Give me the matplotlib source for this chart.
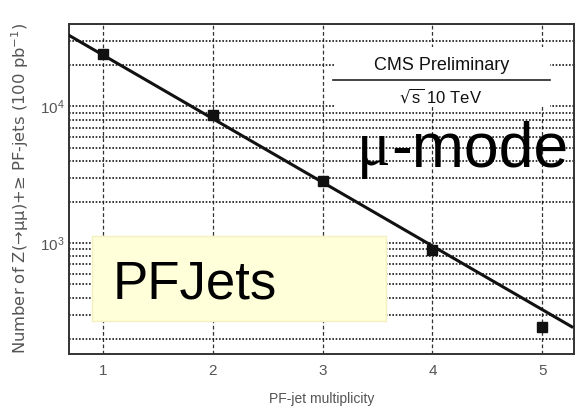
import numpy as np
import matplotlib
matplotlib.use("Agg")
import matplotlib.pyplot as plt
from matplotlib.patches import Rectangle
from matplotlib.ticker import LogLocator, FixedLocator, NullFormatter

# data
multiplicity = [1, 2, 3, 4, 5]
n_events = [24000, 8700, 2840, 890, 244]
# exponential fit drawn in the plot: log10(N) = fit_a + fit_b * n
fit_a = 4.84
fit_b = -0.465

plt.rcParams['font.family'] = ['Liberation Sans', 'DejaVu Sans']
plt.rcParams['mathtext.default'] = 'regular'

W, H = 585, 411


def fx(px):
    return px / W


def fy(py):
    return 1 - py / H


fig = plt.figure(figsize=(5.85, 4.11), dpi=100)
ax = fig.add_axes([fx(69), fy(354), (574 - 69) / W, (354 - 24) / H])

ax.set_yscale('log')
ax.set_xlim(0.69, 5.29)
ax.set_ylim(155, 40000)

# grid: dotted horizontals at every minor decade step, dashed verticals
ax.yaxis.set_minor_locator(LogLocator(base=10, subs=np.arange(2, 10)))
ax.yaxis.set_minor_formatter(NullFormatter())
ax.xaxis.set_major_locator(FixedLocator(multiplicity))
ax.grid(True, which='both', axis='y', linestyle=(0, (1, 1)), color='#1a1a1a', linewidth=1.2)
ax.grid(True, which='major', axis='x', linestyle=(0, (3, 2)), color='#333333', linewidth=0.9)
ax.tick_params(which='both', length=0, labelsize=11, colors='#555555')
ax.tick_params(axis='x', pad=7)
for s in ax.spines.values():
    s.set_linewidth(1.4)
    s.set_color('#333333')

xf = np.linspace(0.69, 5.27, 50)
ax.plot(xf, 10 ** (fit_a + fit_b * xf), color='#111111', lw=2.2, zorder=3)
ax.plot(multiplicity, n_events, 's', color='#111111', ms=7, zorder=4)

ax.set_xlabel('PF-jet multiplicity', fontsize=10, color='#555555', labelpad=10)
fig.text(fx(20), fy(188), 'Number of Z(\u2192\u03bc\u03bc)+\u2265 PF-jets (100 pb$^{-1}$)',
         rotation=90, ha='center', va='center', fontsize=11.8, color='#555555',
         family=['DejaVu Sans'])

# CMS label block on a white patch
fig.add_artist(Rectangle((fx(335), fy(107)), (550 - 335) / W, (107 - 47) / H,
                         transform=fig.transFigure, fc='white', ec='none', zorder=5))
fig.text(fx(442), fy(65), 'CMS Preliminary', ha='center', va='center',
         fontsize=13, color='#111111', zorder=6)
fig.add_artist(plt.Line2D([fx(333), fx(550)], [fy(80), fy(80)],
                          color='#222222', lw=1.2, zorder=6))
fig.text(fx(441), fy(96), '$\\sqrt{s}$ 10 TeV', ha='center', va='center',
         fontsize=12, color='#111111', zorder=6)

fig.text(fx(357), fy(150), '\u03bc', ha='left', va='center',
         fontsize=45, family=['Liberation Serif', 'DejaVu Serif'], color='black', zorder=7)
fig.text(fx(391), fy(150), '-mode', ha='left', va='center',
         fontsize=45, color='black', zorder=7)

# PFJets yellow box
fig.add_artist(Rectangle((fx(92), fy(321)), (386 - 92) / W, (321 - 236) / H,
                         transform=fig.transFigure, fc='#ffffd9', ec='#f4f0c0', lw=1, zorder=5))
fig.text(fx(113), fy(298), 'PFJets', ha='left', va='baseline',
         fontsize=38, color='black', zorder=6)

fig.savefig('out.png', dpi=100)
